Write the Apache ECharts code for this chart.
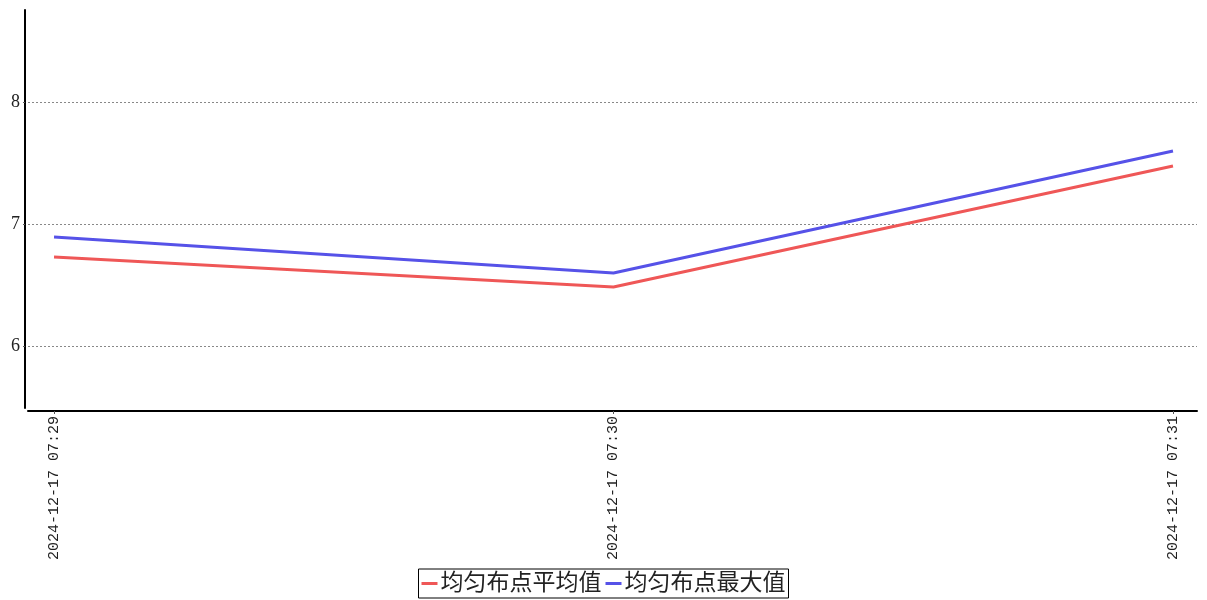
<!DOCTYPE html>
<html>
<head>
<meta charset="utf-8">
<script src="https://cdn.jsdelivr.net/npm/echarts@6/dist/echarts.min.js"></script>
<style>html,body{margin:0;padding:0;background:#fff}#c{width:1207px;height:600px}</style>
</head>
<body>
<div id="c"></div>
<script>
const categories = ['2024-12-17 07:29', '2024-12-17 07:30', '2024-12-17 07:31'];
const avgValues = [6.73, 6.484, 7.475];
const maxValues = [6.893, 6.598, 7.598];
const yTicks = [6, 7, 8];
const seriesNames = ['均匀布点平均值', '均匀布点最大值'];

const chart = echarts.init(document.getElementById('c'), null, {renderer: 'canvas'});
const idx = categories.map((_, i) => i);
const serif = "'Liberation Serif', 'Noto Sans CJK SC', serif";
const mono = "'Liberation Mono', 'DejaVu Sans Mono', monospace";

chart.setOption({
  animation: false,
  backgroundColor: '#fff',
  grid: {left: 28, right: 10, top: 10, bottom: 192, containLabel: false},
  legend: {
    bottom: 2, left: 'center',
    data: seriesNames,
    icon: 'rect', itemWidth: 16, itemHeight: 3, itemGap: 4,
    borderColor: '#000', borderWidth: 1, padding: [3, 3],
    textStyle: {fontSize: 23, fontFamily: serif, color: '#222', padding: [0, 0, 0, -2]}
  },
  xAxis: {
    type: 'value',
    min: -0.0465, max: 2.0429,
    offset: 3,
    axisLine: {show: true, onZero: false, lineStyle: {color: '#000', width: 2}},
    axisTick: {show: true, length: 3, customValues: idx, lineStyle: {color: '#555'}},
    axisLabel: {
      customValues: idx, rotate: 90, margin: 5,
      fontSize: 15, fontFamily: mono, color: '#222',
      formatter: v => categories[Math.round(v)]
    },
    splitLine: {show: false}
  },
  yAxis: {
    type: 'value',
    min: 5.492, max: 8.754,
    offset: 3,
    axisLine: {show: true, onZero: false, lineStyle: {color: '#000', width: 2}},
    axisTick: {show: true, length: 2, customValues: yTicks, lineStyle: {color: '#555'}},
    axisLabel: {customValues: yTicks, fontSize: 18, fontFamily: serif, color: '#222', margin: 5},
    splitLine: {show: true, lineStyle: {color: '#888', type: [2, 2], width: 1}}
  },
  series: [
    {
      name: seriesNames[0], type: 'line', symbol: 'none',
      data: avgValues.map((v, i) => [idx[i], v]),
      lineStyle: {color: '#ef5757', width: 3}, itemStyle: {color: '#ef5757'}
    },
    {
      name: seriesNames[1], type: 'line', symbol: 'none',
      data: maxValues.map((v, i) => [idx[i], v]),
      lineStyle: {color: '#5652e8', width: 3}, itemStyle: {color: '#5652e8'}
    }
  ]
});
</script>
</body>
</html>
